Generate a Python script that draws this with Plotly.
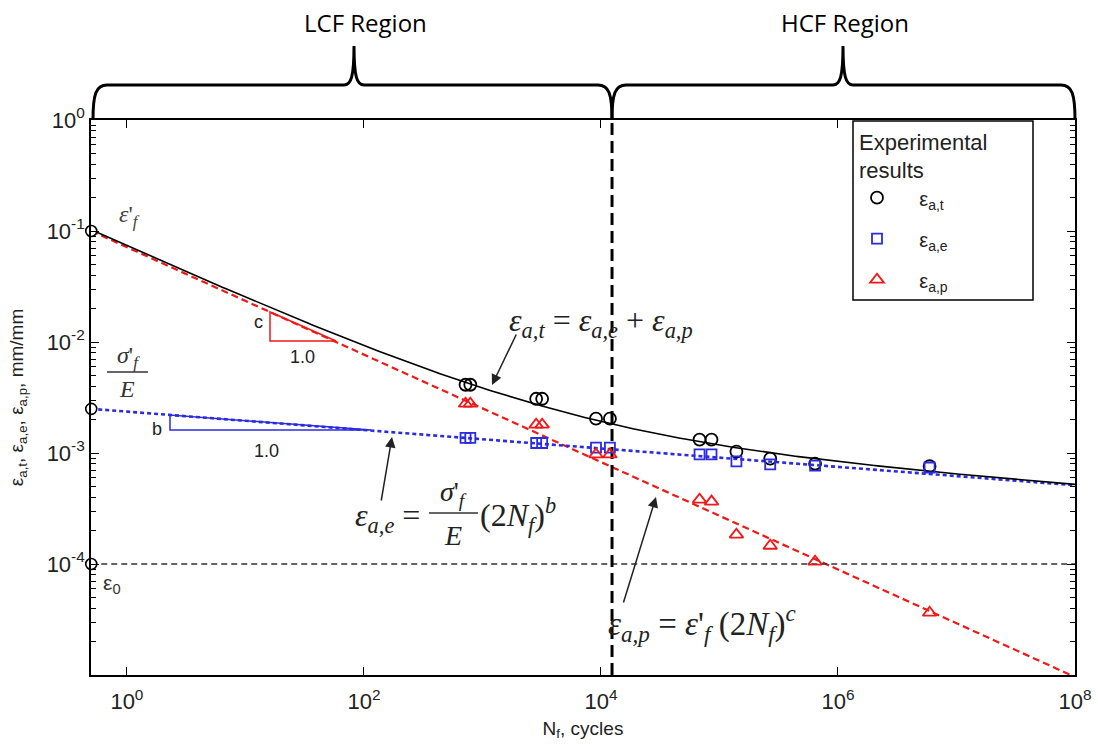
import numpy as np
import plotly.graph_objects as go

# ---- Strain-life model parameters (Basquin / Coffin-Manson) ----
eps_f = 0.1            # fatigue ductility coefficient, eps'_f
sig_f_over_E = 0.0025  # fatigue strength coefficient / modulus, sigma'_f / E
b_exp = -0.083         # fatigue strength exponent b
c_exp = -0.484         # fatigue ductility exponent c
eps_0 = 1e-4           # endurance strain level eps_0
N_transition = 1.24e4  # LCF / HCF transition life (cycles)

# ---- Experimental results ----
N_exp = [720, 790, 2840, 3190, 9080, 11900, 67900, 85700, 139000, 268000, 641000, 5.93e6]
eps_total = [4.12e-3, 4.12e-3, 3.08e-3, 3.08e-3, 2.04e-3, 2.04e-3,
             1.32e-3, 1.32e-3, 1.03e-3, 8.9e-4, 8.0e-4, 7.6e-4]
eps_elastic = [1.37e-3, 1.37e-3, 1.23e-3, 1.23e-3, 1.12e-3, 1.12e-3,
               9.7e-4, 9.7e-4, 8.4e-4, 7.9e-4, 7.7e-4, 7.4e-4]
eps_plastic = [2.78e-3, 2.78e-3, 1.80e-3, 1.80e-3, 9.7e-4, 9.7e-4,
               3.8e-4, 3.65e-4, 1.84e-4, 1.46e-4, 1.05e-4, 3.64e-5]

x_ticks = [1, 1e2, 1e4, 1e6, 1e8]
x_ticktext = ["10<sup>0</sup>", "10<sup>2</sup>", "10<sup>4</sup>", "10<sup>6</sup>", "10<sup>8</sup>"]
y_ticks = [1, 1e-1, 1e-2, 1e-3, 1e-4]
y_ticktext = ["10<sup>0</sup>", "10<sup>-1</sup>", "10<sup>-2</sup>", "10<sup>-3</sup>", "10<sup>-4</sup>"]

# ---- Fitted curves ----
N_min, N_max = 0.5, 1e8
N_curve = np.logspace(np.log10(N_min), np.log10(N_max), 300)
rev = 2 * N_curve
eps_e_curve = sig_f_over_E * rev ** b_exp
eps_p_curve = eps_f * rev ** c_exp
eps_t_curve = eps_e_curve + eps_p_curve

Y_MIN_LOG, Y_MAX_LOG = -5.0, 0.0
X_MIN_LOG, X_MAX_LOG = np.log10(N_min) - 0.002, 8.0

# ---- Figure geometry (pixels) ----
W, H = 1098, 747
L, R, T, B = 91, 1075, 120, 675


def px(x):
    return (x - L) / (R - L)


def py(y):
    return (B - y) / (B - T)


SERIF = "Liberation Serif, Times New Roman, serif"
SANS = "Liberation Sans, Arial, sans-serif"
INK = "#222222"
BLUE = "#2b2be0"
RED = "#f01818"

fig = go.Figure()

# model lines
fig.add_trace(go.Scatter(x=N_curve, y=eps_p_curve, mode="lines",
                         line=dict(color=RED, width=2.2, dash="7px,4px"), showlegend=False,
                         hoverinfo="skip"))
fig.add_trace(go.Scatter(x=N_curve, y=eps_e_curve, mode="lines",
                         line=dict(color=BLUE, width=2.6, dash="4px,3px"), showlegend=False,
                         hoverinfo="skip"))
fig.add_trace(go.Scatter(x=N_curve, y=eps_t_curve, mode="lines",
                         line=dict(color="black", width=1.6), showlegend=False,
                         hoverinfo="skip"))

# endurance level and transition life
fig.add_trace(go.Scatter(x=[N_min, N_max], y=[eps_0, eps_0], mode="lines",
                         line=dict(color="#333333", width=1.6, dash="6px,4px"), showlegend=False))
fig.add_trace(go.Scatter(x=[N_transition, N_transition], y=[10 ** Y_MIN_LOG, 1], mode="lines",
                         line=dict(color="black", width=3, dash="12px,6px"), showlegend=False))

# experimental points
pad = "\u00a0\u00a0\u00a0\u00a0"
fig.add_trace(go.Scatter(x=N_exp, y=eps_total, mode="markers", name=pad + "ε<sub>a,t</sub>",
                         legendgroup="t",
                         marker=dict(symbol="circle-open", size=12, color="black", line=dict(width=1.8))))
fig.add_trace(go.Scatter(x=N_exp, y=eps_elastic, mode="markers", name=pad + "ε<sub>a,e</sub>",
                         legendgroup="e",
                         marker=dict(symbol="square-open", size=10, color=BLUE, line=dict(width=1.8))))
fig.add_trace(go.Scatter(x=N_exp, y=eps_plastic, mode="markers", name=pad + "ε<sub>a,p</sub>",
                         legendgroup="p",
                         marker=dict(symbol="triangle-up-open", size=12, color=RED, line=dict(width=1.8))))

# intercepts on the strain axis
fig.add_trace(go.Scatter(x=[N_min] * 3, y=[eps_f, sig_f_over_E, eps_0], mode="markers",
                         marker=dict(symbol="circle", size=11, color="white",
                                     line=dict(color="black", width=1.6)),
                         cliponaxis=False, showlegend=False))

shapes = []
annotations = []


def brace(x0, x1, xm, y_line=85, y_end=120, y_tip=46):
    pts = [
        f"M {px(x0)},{py(y_end)}",
        f"C {px(x0)},{py(y_line + 9)} {px(x0 + 3)},{py(y_line)} {px(x0 + 14)},{py(y_line)}",
        f"L {px(xm - 10)},{py(y_line)}",
        f"C {px(xm - 3)},{py(y_line)} {px(xm)},{py(y_line - 8)} {px(xm)},{py(y_tip)}",
        f"C {px(xm)},{py(y_line - 8)} {px(xm + 3)},{py(y_line)} {px(xm + 10)},{py(y_line)}",
        f"L {px(x1 - 14)},{py(y_line)}",
        f"C {px(x1 - 3)},{py(y_line)} {px(x1)},{py(y_line + 9)} {px(x1)},{py(y_end)}",
    ]
    return dict(type="path", xref="paper", yref="paper", path=" ".join(pts),
                line=dict(color="black", width=3))


shapes.append(brace(93, 612, 354))
shapes.append(brace(612, 1075, 843))

# slope triangles
shapes.append(dict(type="path", xref="paper", yref="paper",
                   path=f"M {px(270)},{py(312)} L {px(270)},{py(341)} L {px(336)},{py(341)} Z",
                   line=dict(color=RED, width=1.5)))
shapes.append(dict(type="path", xref="paper", yref="paper",
                   path=f"M {px(170)},{py(415)} L {px(170)},{py(430)} L {px(371)},{py(430)} Z",
                   line=dict(color=BLUE, width=1.5)))

# legend frame
shapes.append(dict(type="rect", xref="paper", yref="paper",
                   x0=px(853), x1=px(1033), y0=py(300), y1=py(121),
                   fillcolor="white", line=dict(color="black", width=1.5), layer="above"))

# fraction bars
shapes.append(dict(type="line", xref="paper", yref="paper",
                   x0=px(107), x1=px(148), y0=py(372), y1=py(372), line=dict(color="#333", width=1.3)))
shapes.append(dict(type="line", xref="paper", yref="paper",
                   x0=px(429), x1=px(478), y0=py(513), y1=py(513), line=dict(color="#333", width=1.3)))


def note(text, x, y, size, family=SANS, color=INK, xanchor="center", yanchor="middle"):
    annotations.append(dict(text=text, x=px(x), y=py(y), xref="paper", yref="paper",
                            showarrow=False, xanchor=xanchor, yanchor=yanchor,
                            font=dict(family=family, size=size, color=color)))


def arrow(hx, hy, tx, ty):
    annotations.append(dict(text="", x=px(hx), y=py(hy), xref="paper", yref="paper",
                            ax=tx - hx, ay=ty - hy, showarrow=True, arrowhead=2,
                            arrowsize=1.4, arrowwidth=1.5, arrowcolor="#222"))


TOP_FONT = "Open Sans, Lato, sans-serif"
note("LCF Region", 365, 22, 24, TOP_FONT, "black")
note("HCF Region", 845, 22, 24, TOP_FONT, "black")

note("<i>ε</i>'<sub><i>f</i></sub>", 129, 216, 24, SERIF, "#444")
note("<i>σ</i>'<sub><i>f</i></sub>", 128, 357, 24, SERIF, "#333")
note("<i>E</i>", 127, 389, 24, SERIF, "#333")
note("ε<sub>0</sub>", 112, 584, 21, SANS, "#333")

note("c", 258, 322, 18, SANS, INK)
note("1.0", 302, 357, 18, SANS, INK)
note("b", 157, 429, 18, SANS, INK)
note("1.0", 266, 451, 18, SANS, INK)

note("<i>ε<sub>a,t</sub></i> = <i>ε<sub>a,e</sub></i> + <i>ε<sub>a,p</sub></i>", 601, 322, 32, SERIF, "#222")
note("<i>ε<sub>a,e</sub></i> =", 353, 517, 32, SERIF, "#222", xanchor="left")
note("<i>σ</i>'<sub><i>f</i></sub>", 453, 493, 28, SERIF, "#222")
note("<i>E</i>", 453, 535, 28, SERIF, "#222")
note("(2<i>N<sub>f</sub></i>)<sup><i>b</i></sup>", 478, 515, 32, SERIF, "#222", xanchor="left")
note("<i>ε<sub>a,p</sub></i> = <i>ε</i>'<sub><i>f</i></sub> (2<i>N<sub>f</sub></i>)<sup><i>c</i></sup>",
     606, 623, 33, SERIF, "#222", xanchor="left")

arrow(492, 385, 517, 333)
arrow(392, 437, 381, 502)
arrow(656, 497, 623, 604)

axis_common = dict(
    type="log", showgrid=False, zeroline=False, showline=True, linecolor="black",
    linewidth=1.6, mirror="ticks", ticks="inside", ticklen=8, tickwidth=1.4,
    tickcolor="black", tickfont=dict(family=SANS, size=22, color=INK),
)

y_minor = [m * 10.0 ** k for k in range(-5, 0) for m in range(2, 10)]

fig.update_layout(
    width=W, height=H,
    margin=dict(l=L, r=W - R, t=T, b=H - B, autoexpand=False),
    paper_bgcolor="white", plot_bgcolor="white",
    xaxis=dict(**axis_common, range=[X_MIN_LOG, X_MAX_LOG], tickmode="array",
               tickvals=x_ticks, ticktext=x_ticktext, ticklabelstandoff=6,
               title=dict(text="N<sub>f</sub>, cycles", standoff=8,
                          font=dict(family=SANS, size=19, color=INK))),
    yaxis=dict(**axis_common, range=[Y_MIN_LOG, Y_MAX_LOG], tickmode="array",
               tickvals=y_ticks, ticktext=y_ticktext,
               minor=dict(tickmode="array", tickvals=y_minor, ticks="inside",
                          ticklen=5, tickwidth=1.2, tickcolor="black", showgrid=False),
               title=dict(text="ε<sub>a,t</sub>, ε<sub>a,e</sub>, ε<sub>a,p</sub>, mm/mm",
                          standoff=18, font=dict(family=SANS, size=19, color=INK))),
    legend=dict(x=px(857), y=py(121), xanchor="left", yanchor="top",
                bgcolor="rgba(0,0,0,0)", borderwidth=0, tracegroupgap=12,
                font=dict(family=SANS, size=20, color=INK),
                title=dict(text="Experimental<br>results",
                           font=dict(family=SANS, size=22, color=INK))),
    shapes=shapes,
    annotations=annotations,
    showlegend=True,
)

fig.write_html("out.html")
